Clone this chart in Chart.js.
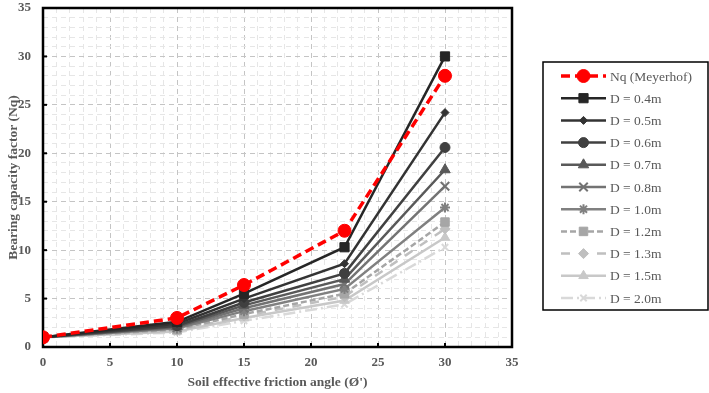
<!DOCTYPE html>
<html>
<head>
<meta charset="utf-8">
<script src="https://cdn.jsdelivr.net/npm/chart.js@4.4.1/dist/chart.umd.min.js"></script>
<style>
  body { margin: 0; background: #fff; }
  #wrap { width: 709px; height: 393px; }
</style>
</head>
<body>
<div id="wrap"><canvas id="nqChart" width="709" height="393"></canvas></div>
<script>
// friction angles (deg)
var angles = [0, 10, 15, 22.5, 30];

// values
var nqMeyerhof = [1, 3.0, 6.4, 12.0, 28.0];
var d04 = [1, 2.6, 5.5, 10.3, 30.0];
var d05 = [1, 2.4, 5.0, 8.6, 24.2];
var d06 = [1, 2.2, 4.6, 7.6, 20.6];
var d07 = [1, 2.1, 4.3, 7.0, 18.3];
var d08 = [1, 2.0, 4.0, 6.5, 16.6];
var d10 = [1, 1.9, 3.7, 6.0, 14.4];
var d12 = [1, 1.8, 3.4, 5.5, 12.9];
var d13 = [1, 1.7, 3.2, 5.2, 12.2];
var d15 = [1, 1.6, 3.0, 4.8, 11.3];
var d20 = [1, 1.5, 2.7, 4.4, 10.3];

var seriesLabels = ['Nq (Meyerhof)', 'D = 0.4m', 'D = 0.5m', 'D = 0.6m', 'D = 0.7m', 'D = 0.8m',
                    'D = 1.0m', 'D = 1.2m', 'D = 1.3m', 'D = 1.5m', 'D = 2.0m'];
var seriesValues = [nqMeyerhof, d04, d05, d06, d07, d08, d10, d12, d13, d15, d20];

var xTicks = [0, 5, 10, 15, 20, 25, 30, 35];
var yTicks = [0, 5, 10, 15, 20, 25, 30, 35];

// look of each series
var styles = [
    { color: '#ff0000', dash: [9, 5], width: 3.5, point: 'circle', radius: 6.5 },
    { color: '#262626', dash: [], width: 2.5, point: 'rect', radius: 6.5 },
    { color: '#333333', dash: [], width: 2.5, point: 'rectRot', radius: 4 },
    { color: '#404040', dash: [], width: 2.5, point: 'circle', radius: 5 },
    { color: '#595959', dash: [], width: 2.5, point: 'triangle', radius: 6 },
    { color: '#737373', dash: [], width: 2.5, point: 'crossRot', radius: 6 },
    { color: '#808080', dash: [], width: 2.5, point: 'star', radius: 5 },
    { color: '#a6a6a6', dash: [6, 3], width: 2.5, point: 'rect', radius: 6 },
    { color: '#bfbfbf', dash: [9, 9], width: 2.5, point: 'rectRot', radius: 5 },
    { color: '#c8c8c8', dash: [], width: 2.5, point: 'triangle', radius: 5.5 },
    { color: '#d9d9d9', dash: [12, 4, 2, 4], width: 2.5, point: 'crossRot', radius: 4.5 }
];

var datasets = seriesLabels.map(function (label, i) {
    var s = styles[i];
    return {
        label: label,
        data: angles.map(function (a, j) { return { x: a, y: seriesValues[i][j] }; }),
        borderColor: s.color,
        backgroundColor: s.color,
        borderWidth: s.width,
        borderDash: s.dash,
        pointStyle: s.point,
        pointRadius: s.radius,
        pointBorderWidth: s.point === 'crossRot' || s.point === 'star' ? 2 : 1,
        tension: 0,
        order: i === 0 ? -1 : i
    };
});

var tickFont = { family: 'Liberation Serif', size: 13, weight: 'bold' };
var titleFont = { family: 'Liberation Serif', size: 13.5, weight: 'bold' };

function gridColor(c) {
    return c.tick && c.tick.value % 5 === 0 ? '#c4c4c4' : '#e6e6e6';
}

// frame round the plot area with small inside ticks
var framePlugin = {
    id: 'frame',
    beforeDatasetsDraw: function (chart) {
        var a = chart.chartArea, ctx = chart.ctx;
        ctx.save();
        ctx.strokeStyle = '#000';
        ctx.lineWidth = 2.5;
        ctx.strokeRect(a.left, a.top, a.right - a.left, a.bottom - a.top);
        ctx.lineWidth = 2;
        yTicks.forEach(function (v) {
            var py = chart.scales.y.getPixelForValue(v);
            ctx.beginPath(); ctx.moveTo(a.left, py); ctx.lineTo(a.left + 4, py); ctx.stroke();
        });
        xTicks.forEach(function (v) {
            var px = chart.scales.x.getPixelForValue(v);
            ctx.beginPath(); ctx.moveTo(px, a.bottom); ctx.lineTo(px, a.bottom - 4); ctx.stroke();
        });
        ctx.restore();
    }
};

// boxed legend on the right, line + marker per series
var legendPlugin = {
    id: 'boxLegend',
    afterDraw: function (chart) {
        var ctx = chart.ctx;
        var a = chart.chartArea;
        var boxL = a.right + 31, boxT = 62, boxW = 165, boxH = 248;
        ctx.save();
        ctx.fillStyle = '#fff';
        ctx.fillRect(boxL, boxT, boxW, boxH);
        ctx.strokeStyle = '#000';
        ctx.lineWidth = 1.5;
        ctx.strokeRect(boxL, boxT, boxW, boxH);
        chart.data.datasets.forEach(function (ds, i) {
            var y = boxT + 14 + i * 22.2;
            var x0 = boxL + 18, x1 = boxL + 63;
            ctx.strokeStyle = ds.borderColor;
            ctx.lineWidth = ds.borderWidth;
            ctx.setLineDash(ds.borderDash);
            ctx.beginPath(); ctx.moveTo(x0, y); ctx.lineTo(x1, y); ctx.stroke();
            ctx.setLineDash([]);
            ctx.fillStyle = ds.backgroundColor;
            ctx.strokeStyle = ds.borderColor;
            ctx.lineWidth = ds.pointBorderWidth;
            Chart.helpers.drawPoint(ctx, { pointStyle: ds.pointStyle, radius: ds.pointRadius, rotation: 0, borderWidth: ds.pointBorderWidth }, (x0 + x1) / 2, y);
            ctx.fillStyle = '#595959';
            ctx.font = '13.5px "Liberation Serif"';
            ctx.textBaseline = 'middle';
            ctx.textAlign = 'left';
            ctx.fillText(ds.label, x1 + 4, y + 1);
        });
        ctx.restore();
    }
};

var ctx = document.getElementById('nqChart').getContext('2d');
var nqChart = new Chart(ctx, {
    type: 'line',
    data: { datasets: datasets },
    options: {
        responsive: false,
        animation: false,
        layout: { padding: { top: 4, right: 197, left: 0, bottom: 0 } },
        plugins: {
            legend: { display: false },
            tooltip: { enabled: false }
        },
        scales: {
            x: {
                type: 'linear',
                min: 0, max: 35,
                afterFit: function (s) { s.height = 46; },
                ticks: {
                    stepSize: 1,
                    autoSkip: false,
                    maxRotation: 0,
                    padding: 8,
                    color: '#595959',
                    font: tickFont,
                    callback: function (v) { return xTicks.indexOf(v) >= 0 ? v : ''; }
                },
                grid: { color: gridColor, drawTicks: false, lineWidth: 1 },
                border: { display: false, dash: [5, 4] },
                title: {
                    display: true,
                    text: "Soil effective friction angle (Ø')",
                    color: '#595959',
                    font: titleFont,
                    padding: { top: 0, bottom: 2 }
                }
            },
            y: {
                min: 0, max: 35,
                afterFit: function (s) { s.width = 43; s.paddingTop = 0; s.paddingBottom = 0; },
                ticks: {
                    stepSize: 1,
                    autoSkip: false,
                    padding: 12,
                    color: '#595959',
                    font: tickFont,
                    callback: function (v) { return yTicks.indexOf(v) >= 0 ? v : ''; }
                },
                grid: { color: gridColor, drawTicks: false, lineWidth: 1 },
                border: { display: false, dash: [5, 4] },
                title: {
                    display: true,
                    text: 'Bearing capacity factor (Nq)',
                    color: '#595959',
                    font: titleFont,
                    padding: { top: 5, bottom: 0 }
                }
            }
        }
    },
    plugins: [framePlugin, legendPlugin]
});
</script>
</body>
</html>
